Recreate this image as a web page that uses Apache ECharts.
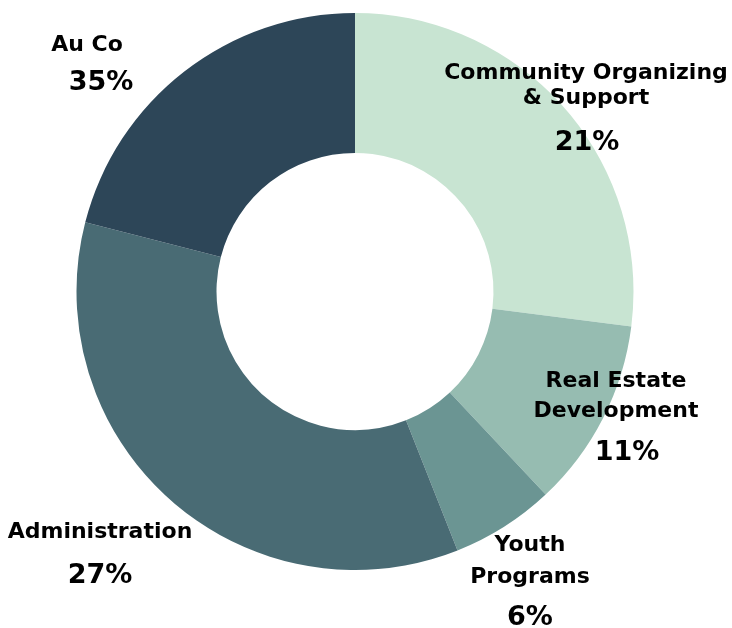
<!DOCTYPE html>
<html>
<head>
<meta charset="utf-8">
<script src="https://cdn.jsdelivr.net/npm/echarts@6/dist/echarts.min.js"></script>
<style>
  html, body { margin: 0; padding: 0; background: #fff; }
  #chart { width: 732px; height: 628px; }
</style>
</head>
<body>
<div id="chart"></div>
<script>
// slices, clockwise from 12 o'clock
const categories = ['Community Organizing\n& Support', 'Real Estate\nDevelopment', 'Youth\nPrograms', 'Administration', 'Au Co'];
const sliceValues = [27, 11, 6, 35, 21];
// percentages printed on the chart (as shown in the picture)
const labelPercents = ['21%', '11%', '6%', '27%', '35%'];
const colors = ['#c8e4d2', '#96bcb1', '#6b9593', '#496b74', '#2d4658'];

// label block placement: [centerX, top, nameLineHeight, pctLineHeight, pctShift]
const labelPlace = [
  [586, 61, 25, 63, 2],
  [616, 366, 30, 54, 22],
  [530, 529, 32, 50, 0],
  [100, 517, 30, 58, 0],
  [87, 30, 30, 46, 28]
];

const chart = echarts.init(document.getElementById('chart'));

const option = {
  animation: false,
  series: [
    {
      type: 'pie',
      center: [355, 291.5],
      radius: [138.5, 278.5],
      startAngle: 90,
      clockwise: true,
      avoidLabelOverlap: false,
      silent: true,
      itemStyle: { borderWidth: 0 },
      labelLine: { show: false },
      data: categories.map((name, i) => ({
        name: name,
        value: sliceValues[i],
        itemStyle: { color: colors[i] },
        label: {
          show: true,
          position: 'outside',
          formatter: '{n|' + name + '}\n{p|' + labelPercents[i] + '}',
          rich: {
            n: {
              fontFamily: 'DejaVu Sans',
              fontWeight: 'bold',
              fontSize: 22,
              lineHeight: labelPlace[i][2],
              color: '#000',
              align: 'center'
            },
            p: {
              fontFamily: 'DejaVu Sans',
              fontWeight: 'bold',
              fontSize: 27,
              lineHeight: labelPlace[i][3],
              color: '#000',
              align: 'center',
              padding: [0, 0, 0, labelPlace[i][4]]
            }
          }
        }
      })),
      labelLayout: function (params) {
        const p = labelPlace[params.dataIndex];
        return {
          x: p[0],
          y: p[1],
          align: 'center',
          verticalAlign: 'top'
        };
      }
    }
  ]
};

chart.setOption(option);
</script>
</body>
</html>
